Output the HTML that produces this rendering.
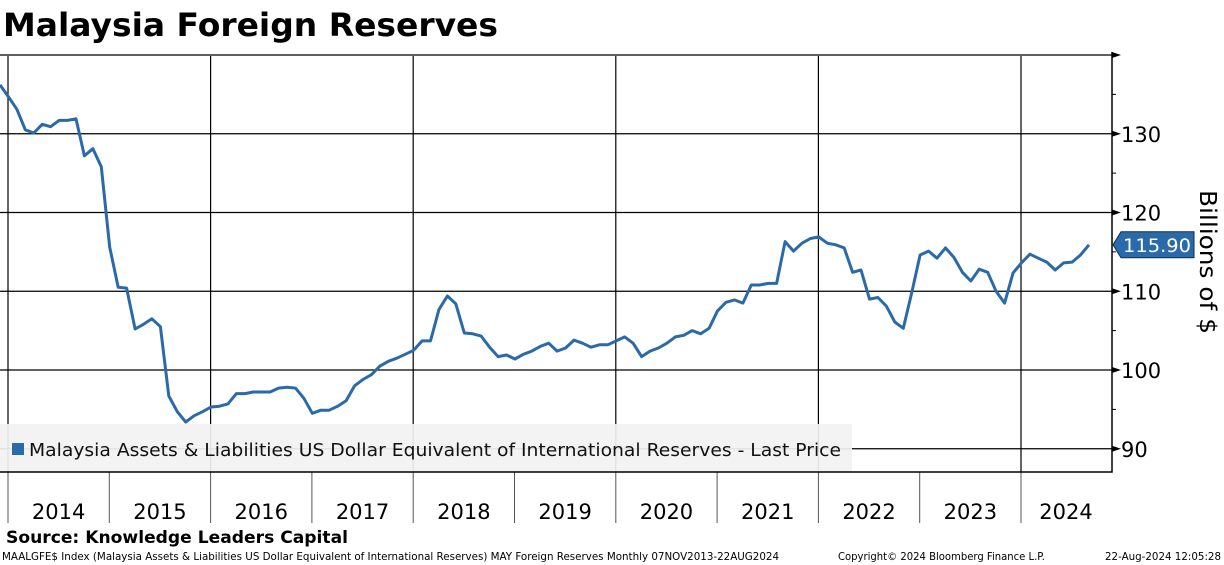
<!DOCTYPE html>
<html><head><meta charset="utf-8"><style>
html,body{margin:0;padding:0;background:#fff;width:1224px;height:565px;overflow:hidden}
svg{display:block;font-family:"DejaVu Sans","Liberation Sans",sans-serif}
</style></head><body>
<svg id="chart" width="1224" height="565" viewBox="0 0 1224 565">
<text x="3" y="36" font-size="32" font-weight="bold" textLength="495" lengthAdjust="spacingAndGlyphs">Malaysia Foreign Reserves</text>
<g id="grid"></g>
<g id="series"></g>
<rect x="0" y="424" width="852" height="48" fill="#f2f2f2" fill-opacity="0.92"/>
<g>
<rect x="12" y="443" width="12" height="12" fill="#2b6aa8"/>
<text x="29" y="456" font-size="18" fill="#111" textLength="812" lengthAdjust="spacingAndGlyphs">Malaysia Assets &amp; Liabilities US Dollar Equivalent of International Reserves - Last Price</text>
</g>
<g id="axes"></g>
<text transform="translate(1200,262) rotate(90)" text-anchor="middle" font-size="23" textLength="144" lengthAdjust="spacingAndGlyphs">Billions of $</text>
<text x="6" y="543" font-size="17" font-weight="bold" textLength="342" lengthAdjust="spacingAndGlyphs">Source: Knowledge Leaders Capital</text>
<text x="2" y="560" font-size="10.5" textLength="777" lengthAdjust="spacingAndGlyphs">MAALGFE$ Index (Malaysia Assets &amp; Liabilities US Dollar Equivalent of International Reserves) MAY Foreign Reserves  Monthly 07NOV2013-22AUG2024</text>
<text x="838" y="560" font-size="10.5" textLength="207" lengthAdjust="spacingAndGlyphs">Copyright© 2024 Bloomberg Finance L.P.</text>
<text x="1105" y="560" font-size="10.5" textLength="116" lengthAdjust="spacingAndGlyphs">22-Aug-2024 12:05:28</text>
</svg>
<script>
const values=[136.2,134.7,133.1,130.5,130.1,131.2,130.9,131.7,131.7,131.9,127.2,128.1,125.8,115.6,110.5,110.4,105.2,105.8,106.5,105.5,96.7,94.7,93.4,94.2,94.7,95.3,95.4,95.7,97.0,97.0,97.2,97.2,97.2,97.7,97.8,97.7,96.4,94.5,94.9,94.9,95.4,96.1,98.0,98.8,99.4,100.5,101.1,101.5,102.0,102.5,103.7,103.7,107.7,109.4,108.4,104.7,104.6,104.3,102.9,101.7,101.9,101.4,102.0,102.4,103.0,103.4,102.4,102.8,103.8,103.4,102.9,103.2,103.2,103.7,104.2,103.4,101.7,102.4,102.8,103.4,104.2,104.4,105.0,104.6,105.3,107.5,108.6,108.9,108.5,110.8,110.8,111.0,111.0,116.3,115.1,116.1,116.7,116.9,116.1,115.9,115.5,112.4,112.7,109.0,109.2,108.1,106.1,105.3,109.8,114.6,115.1,114.2,115.5,114.3,112.4,111.3,112.8,112.4,110.0,108.5,112.3,113.6,114.7,114.2,113.7,112.7,113.6,113.7,114.6,115.9];
const yTicks=[90,100,110,120,130,140];
const yearLabels=["2014","2015","2016","2017","2018","2019","2020","2021","2022","2023","2024"];
const lastLabel="115.90";
const NS="http://www.w3.org/2000/svg";
const PL=0,PR=1112,PT=56,PB=472;
const monthW=101.3/12;
const xIdx=i=>PL+i*monthW;
const xMonth=m=>8+m*monthW;
const yV=v=>370-(v-100)*7.875;
function mk(tag,attrs,parent){const e=document.createElementNS(NS,tag);for(const k in attrs)e.setAttribute(k,attrs[k]);parent.appendChild(e);return e;}
const grid=document.getElementById('grid'),axes=document.getElementById('axes'),series=document.getElementById('series');
yTicks.forEach(v=>{const y=yV(v);
 const g=mk('line',{x1:PL,x2:PR,y1:y,y2:y,stroke:'#000','stroke-width':1.2},grid);
 
 
 const a=mk('path',{d:`M${PR} ${y-3}L${PR+9} ${y}L${PR} ${y+3}Z`,fill:'#000'},axes);
 
 
 if(yV(v-5)<PB){const m=mk('line',{x1:PR,x2:PR+4,y1:yV(v-5),y2:yV(v-5),stroke:'#000'},axes);
 
 }
 if(v<140){const t=mk('text',{x:PR+9,y:y+8,'font-size':21},axes);t.textContent=v;
 
 }
});
for(let k=0;k<=yearLabels.length;k+=2){const x=xMonth(k*12);
 const g=mk('line',{x1:x,x2:x,y1:PT,y2:PB,stroke:'#000','stroke-width':1.2},grid);
 
 }
yearLabels.forEach((yr,k)=>{const x0=xMonth(k*12),x1=Math.min(xMonth((k+1)*12),PR);
 const tk=mk('line',{x1:x0,x2:x0,y1:PB,y2:523,stroke:'#555','stroke-width':1},axes);
 
 
 const t=mk('text',{x:k==10?1066:(x0+x1)/2,y:519,'font-size':21,'text-anchor':'middle'},axes);t.textContent=yr;
 
 
});
const axLines=mk('path',{d:`M0 ${PB}H${PR}V${PT-4}`,fill:'none',stroke:'#000','stroke-width':1.5},axes);


const seriesLine=mk('polyline',{points:values.map((v,i)=>xIdx(i).toFixed(1)+','+yV(v).toFixed(1)).join(' '),fill:'none',stroke:'#2b6aa8','stroke-width':3,'stroke-linejoin':'round'},series);


const ly=yV(values[values.length-1]);
const priceTag=mk('path',{d:`M${PR+1} ${ly}L${PR+9} ${ly-13}H${PR+82}V${ly+13}H${PR+9}Z`,fill:'#2b6aa8',stroke:'#0d2e55','stroke-width':1},axes);


const tagText=mk('text',{x:PR+11,y:ly+7,'font-size':19,fill:'#fff',textLength:68,lengthAdjust:'spacingAndGlyphs'},axes);tagText.textContent=lastLabel;


</script>
</body></html>
